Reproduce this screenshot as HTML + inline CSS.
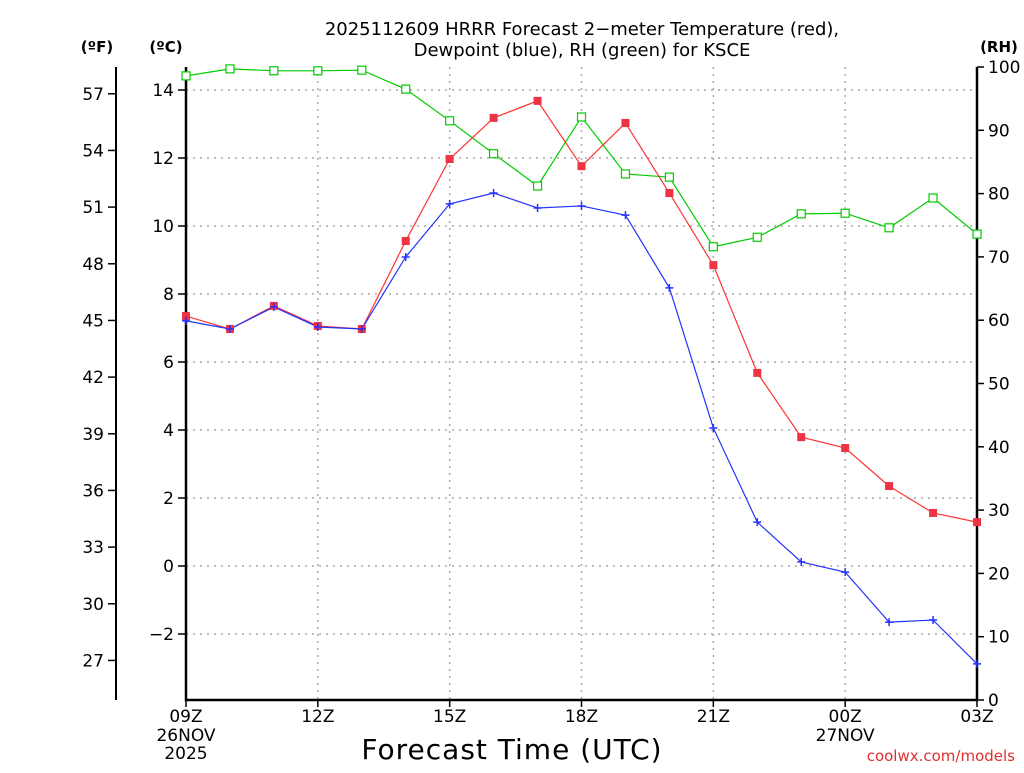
<!DOCTYPE html>
<html><head><meta charset="utf-8"><style>
body{margin:0;background:#fff;}
svg text{font-family:"DejaVu Sans","Liberation Sans",sans-serif;}
</style></head><body>
<svg id="chart" width="1024" height="768" xmlns="http://www.w3.org/2000/svg">
<text x="582" y="35" font-size="18" text-anchor="middle">2025112609 HRRR Forecast 2−meter Temperature (red),</text>
<text x="582" y="56" font-size="18" text-anchor="middle">Dewpoint (blue), RH (green) for KSCE</text>
<text x="97" y="52" font-size="15" font-weight="bold" text-anchor="middle">(ºF)</text>
<text x="166" y="52" font-size="15" font-weight="bold" text-anchor="middle">(ºC)</text>
<text x="999" y="52" font-size="15" font-weight="bold" text-anchor="middle">(RH)</text>
<g id="grid"></g><g id="axes"></g><g id="series"></g>
<text x="512" y="759" font-size="28" letter-spacing="1" text-anchor="middle">Forecast Time (UTC)</text>
<text x="1015" y="761" font-size="15" fill="#e03030" text-anchor="end">coolwx.com/models</text>
</svg>
<script>
const hours=[0,1,2,3,4,5,6,7,8,9,10,11,12,13,14,15,16,17,18];
const tempC=[7.35,6.97,7.65,7.06,6.97,9.56,11.97,13.18,13.68,11.76,13.03,10.97,8.85,5.68,3.79,3.47,2.35,1.56,1.29];
const dewC=[7.21,6.97,7.62,7.03,6.97,9.09,10.65,10.97,10.53,10.59,10.32,8.18,4.06,1.29,0.12,-0.18,-1.65,-1.59,-2.88];
const rh=[98.6,99.7,99.4,99.4,99.5,96.5,91.5,86.3,81.2,92.1,83.1,82.6,71.6,73.1,76.8,76.9,74.6,79.3,73.6];
const cTicks=[14,12,10,8,6,4,2,0,-2];
const fTicks=[57,54,51,48,45,42,39,36,33,30,27];
const rhTicks=[100,90,80,70,60,50,40,30,20,10,0];
const xTickHours=[0,3,6,9,12,15,18];
const xTickLabels=["09Z","12Z","15Z","18Z","21Z","00Z","03Z"];
const xTickSub=["26NOV\n2025","","","","","27NOV",""];

const L=186,R=977,T=67,B=700;
const x=h=>L+(h-0)*(R-L)/18;
const yC=c=>566-c*34;
const yF=f=>yC((f-32)/1.8);
const yR=r=>B-r*(B-T)/100;
const NS="http://www.w3.org/2000/svg";
function mk(tag,attrs,parent){const e=document.createElementNS(NS,tag);for(const k in attrs)e.setAttribute(k,attrs[k]);parent.appendChild(e);return e;}
const grid=document.getElementById('grid'),axes=document.getElementById('axes'),ser=document.getElementById('series');

cTicks.forEach(c=>{
 const g=mk('line',{x1:L,x2:R,y1:yC(c),y2:yC(c),stroke:'#aaa','stroke-dasharray':'2,5','stroke-width':1.5},grid);
 
 
 const t=mk('line',{x1:L-8,x2:L,y1:yC(c),y2:yC(c),stroke:'#000','stroke-width':1.5},axes);
 
 
 const tx=mk('text',{x:L-12,y:yC(c)+6,'font-size':17,'text-anchor':'end'},axes);
 tx.textContent=(c<0?'−'+(-c):c);
 
 
});
xTickHours.forEach((h,i)=>{
 if(i>0&&i<xTickHours.length-1){
  const g=mk('line',{x1:x(h),x2:x(h),y1:T,y2:B,stroke:'#aaa','stroke-dasharray':'2,5','stroke-width':1.5},grid);
  
  
 }
 const t=mk('line',{x1:x(h),x2:x(h),y1:B,y2:B+7,stroke:'#000','stroke-width':1.5},axes);
 
 
 const tx=mk('text',{x:x(h),y:722,'font-size':17,'text-anchor':'middle'},axes);
 tx.textContent=xTickLabels[i];
 
 
 xTickSub[i].split('\n').forEach((s,j)=>{if(!s)return;
  const st=mk('text',{x:x(h),y:741+j*18,'font-size':17,'text-anchor':'middle'},axes);
  st.textContent=s;
  
  
 });
});
fTicks.forEach(f=>{
 const t=mk('line',{x1:108,x2:116,y1:yF(f),y2:yF(f),stroke:'#000','stroke-width':1.5},axes);
 
 
 const tx=mk('text',{x:104,y:yF(f)+6,'font-size':17,'text-anchor':'end'},axes);
 tx.textContent=f;
 
 
});
rhTicks.forEach(r=>{
 const t=mk('line',{x1:R,x2:R+7,y1:yR(r),y2:yR(r),stroke:'#000','stroke-width':1.5},axes);
 
 
 const tx=mk('text',{x:R+11,y:yR(r)+6,'font-size':17,'text-anchor':'start'},axes);
 tx.textContent=r;
 
 
});
const fa=mk('line',{x1:116,x2:116,y1:T,y2:B,stroke:'#000','stroke-width':2},axes);


const frame=mk('path',{d:`M${L},${T}V${B}H${R}V${T}`,fill:'none',stroke:'#000','stroke-width':2.5},axes);



function line(vals,yf,color,name){
 const p=mk('polyline',{points:vals.map((v,i)=>x(hours[i])+','+yf(v)).join(' '),fill:'none',stroke:color,'stroke-width':1.2},ser);
 
 
}
line(rh,yR,'#00cc00','rh');
line(tempC,yC,'#ff3333','temperature');
line(dewC,yC,'#2233ff','dewpoint');
rh.forEach((v,i)=>{
 const m=mk('rect',{x:x(hours[i])-4,y:yR(v)-4,width:8,height:8,fill:'#fff',stroke:'#00cc00','stroke-width':1.2},ser);
 
 
});
tempC.forEach((v,i)=>{
 const m=mk('rect',{x:x(hours[i])-4,y:yC(v)-4,width:8,height:8,fill:'#ee3344'},ser);
 
 
});
dewC.forEach((v,i)=>{
 const m=mk('path',{d:`M${x(hours[i])-4},${yC(v)}h8M${x(hours[i])},${yC(v)-4}v8`,stroke:'#2233ff','stroke-width':1.5},ser);
 
 
});
</script>
</body></html>
